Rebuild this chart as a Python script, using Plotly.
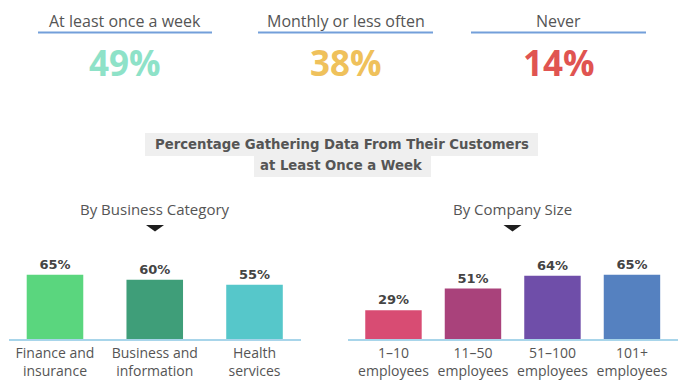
import plotly.graph_objects as go

# ---- data ----
summary_labels = ["At least once a week", "Monthly or less often", "Never"]
summary_values = [49, 38, 14]
summary_colors = ["#8ee2c8", "#efc15b", "#e05451"]

business_categories = ["Finance and<br>insurance", "Business and<br>information", "Health<br>services"]
business_values = [65, 60, 55]
business_colors = ["#5ad67e", "#3f9e79", "#56c7ca"]

size_categories = ["1–10<br>employees", "11–50<br>employees", "51–100<br>employees", "101+<br>employees"]
size_values = [29, 51, 64, 65]
size_colors = ["#d84c73", "#a9427b", "#6f4ea9", "#5581c0"]

title_lines = ["Percentage Gathering Data From Their Customers", "at Least Once a Week"]
panel_titles = ["By Business Category", "By Company Size"]

# page has an 8px body margin; size figure to fit the 690x392 window
OFF = 8
W, H = 690 - OFF, 392 - OFF
def px(x):
    return (x - OFF) / W
def py(y):
    return 1 - (y - OFF) / H

REG = "Open Sans"
BOLD = "DejaVu Sans"
fig = go.Figure()

fig.add_trace(go.Bar(
    x=list(range(len(business_values))), y=business_values,
    marker=dict(color=business_colors, line=dict(width=0)),
    width=0.567, texttemplate="<b>%{y}%</b>", textposition="outside",
    textfont=dict(size=13, color="#444444", family=BOLD),
    cliponaxis=False, xaxis="x", yaxis="y", hoverinfo="skip"))

fig.add_trace(go.Bar(
    x=list(range(len(size_values))), y=size_values,
    marker=dict(color=size_colors, line=dict(width=0)),
    width=0.71, texttemplate="<b>%{y}%</b>", textposition="outside",
    textfont=dict(size=13, color="#444444", family=BOLD),
    cliponaxis=False, xaxis="x2", yaxis="y2", hoverinfo="skip"))

ydom = [py(339), py(240)]
axis_common = dict(showgrid=False, zeroline=False, showline=True, linecolor="#a8d5ea",
                   linewidth=1.5, ticks="", tickfont=dict(size=14, color="#555555", family=REG),
                   fixedrange=True)

layout = dict(
    width=W, height=H, margin=dict(l=0, r=0, t=0, b=0),
    paper_bgcolor="white", plot_bgcolor="white", showlegend=False,
    font=dict(family=REG, color="#555555"),
    xaxis=dict(domain=[px(9.4), px(300.7)], range=[-0.457, 2.463], anchor="y",
               tickmode="array", tickvals=list(range(len(business_categories))),
               ticktext=business_categories, **axis_common),
    yaxis=dict(domain=ydom, range=[0, 100.2], visible=False, fixedrange=True),
    xaxis2=dict(domain=[px(348), px(678)], range=[-0.572, 3.579], anchor="y2",
                tickmode="array", tickvals=list(range(len(size_categories))),
                ticktext=size_categories, **axis_common),
    yaxis2=dict(domain=ydom, range=[0, 100.2], visible=False, fixedrange=True, anchor="x2"),
)
fig.update_layout(**layout)

annotations = []
shapes = []

# summary headers
centers = [125, 346, 558.5]
underlines = [(38, 212), (258, 433), (471, 646)]
for lab, val, col, cx, (u0, u1) in zip(summary_labels, summary_values, summary_colors, centers, underlines):
    annotations.append(dict(x=px(cx), y=py(21), xref="paper", yref="paper", text=lab,
                            showarrow=False, xanchor="center", yanchor="middle",
                            font=dict(size=16, color="#555555", family=REG)))
    annotations.append(dict(x=px(cx), y=py(62), xref="paper", yref="paper", text=f"<b>{val}%</b>",
                            showarrow=False, xanchor="center", yanchor="middle",
                            font=dict(size=35, color=col, family=REG)))
    shapes.append(dict(type="line", xref="paper", yref="paper", x0=px(u0), x1=px(u1),
                       y0=py(32.5), y1=py(32.5), line=dict(color="#739fda", width=2)))

# title boxes
boxes = [(145, 538, 133, 156), (254, 431, 156, 177)]
for (x0, x1, y0, y1) in boxes:
    shapes.append(dict(type="rect", xref="paper", yref="paper", x0=px(x0), x1=px(x1),
                       y0=py(y1), y1=py(y0), fillcolor="#efefef", line=dict(width=0), layer="below"))
for line, yc in zip(title_lines, [145, 166]):
    annotations.append(dict(x=px(341.5), y=py(yc), xref="paper", yref="paper", text=f"<b>{line}</b>",
                            showarrow=False, xanchor="center", yanchor="middle",
                            font=dict(size=13.25, color="#555555", family=BOLD)))

# panel titles and triangles
for t, cx in zip(panel_titles, [155, 512.5]):
    annotations.append(dict(x=px(cx), y=py(209), xref="paper", yref="paper", text=t,
                            showarrow=False, xanchor="center", yanchor="middle",
                            font=dict(size=15, color="#555555", family=REG)))
    x0, x1, xm = px(cx - 9), px(cx + 9), px(cx)
    y0, y1 = py(225), py(231.5)
    shapes.append(dict(type="path", xref="paper", yref="paper",
                       path=f"M {x0} {y0} L {x1} {y0} L {xm} {y1} Z",
                       fillcolor="#1e1e1e", line=dict(width=0)))

fig.update_layout(annotations=annotations, shapes=shapes)
fig.write_html("out.html")
